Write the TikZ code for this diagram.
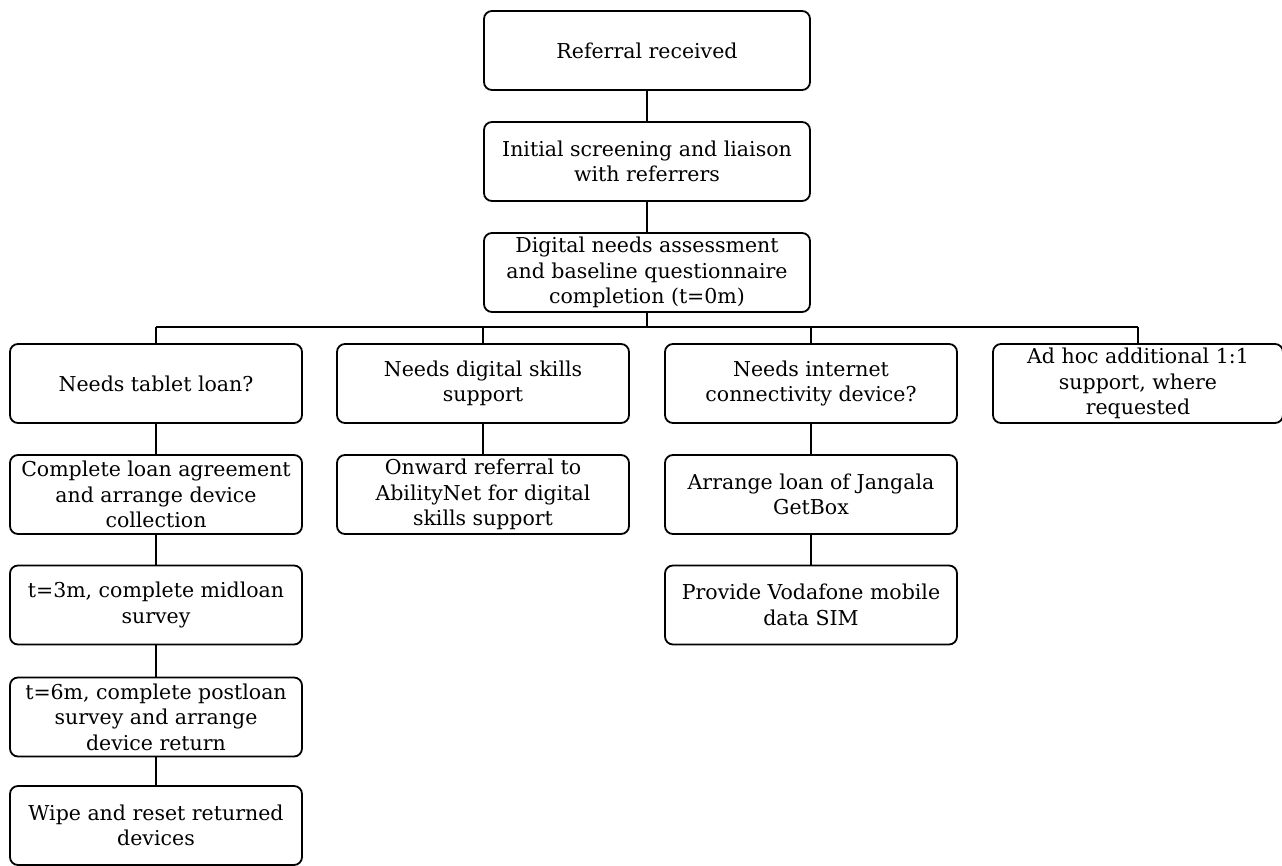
\documentclass[tikz,border=0pt]{standalone}
\usepackage{fontspec}
\setmainfont{DejaVu Serif}
\begin{document}
\begin{tikzpicture}[x=1pt,y=-1pt,
  box/.style={draw, line width=1.8pt, rounded corners=8pt, align=center,
    minimum height=79pt, inner sep=0pt,
    font=\fontsize{20.5}{25.5}\selectfont},
  wide/.style={box, minimum width=326pt},
  std/.style={box, minimum width=292pt},
  link/.style={line width=1.8pt}]
\useasboundingbox (0,0) rectangle (1282,865);

% main trunk
\node[wide] (ref)  at (647,50.5)  {Referral received};
\node[wide] (scr)  at (647,161.5) {Initial screening and liaison\\with referrers};
\node[wide] (dna)  at (647,272.5) {Digital needs assessment\\and baseline questionnaire\\completion (t=0m)};

% branches
\node[std] (tab)  at (156,383.5) {Needs tablet loan?};
\node[std] (dig)  at (483,383.5) {Needs digital skills\\support};
\node[std] (net)  at (811,383.5) {Needs internet\\connectivity device?};
\node[std, minimum width=290pt] (adh) at (1138,383.5) {Ad hoc additional 1:1\\support, where\\requested};

% tablet loan column
\node[std] (agr)  at (156,494.5) {Complete loan agreement\\and arrange device\\collection};
\node[std] (mid)  at (156,605)   {t=3m, complete midloan\\survey};
\node[std] (post) at (156,717)   {t=6m, complete postloan\\survey and arrange\\device return};
\node[std] (wipe) at (156,825.5) {Wipe and reset returned\\devices};

% digital skills column
\node[std] (abn)  at (483,494.5) {Onward referral to\\AbilityNet for digital\\skills support};

% connectivity column
\node[std] (gbx)  at (811,494.5) {Arrange loan of Jangala\\GetBox};
\node[std] (sim)  at (811,605)   {Provide Vodafone mobile\\data SIM};

\coordinate (bus) at (647,327);

\draw[link] (ref) -- (scr);
\draw[link] (scr) -- (dna);
\draw[link] (dna.south) -- (bus);
\draw[link] (tab.north |- bus) -- (adh.north |- bus);
\foreach \n in {tab,dig,net,adh} \draw[link] (\n.north |- bus) -- (\n.north);

\draw[link] (tab) -- (agr);
\draw[link] (agr) -- (mid);
\draw[link] (mid) -- (post);
\draw[link] (post) -- (wipe);
\draw[link] (dig) -- (abn);
\draw[link] (net) -- (gbx);
\draw[link] (gbx) -- (sim);
\end{tikzpicture}
\end{document}
